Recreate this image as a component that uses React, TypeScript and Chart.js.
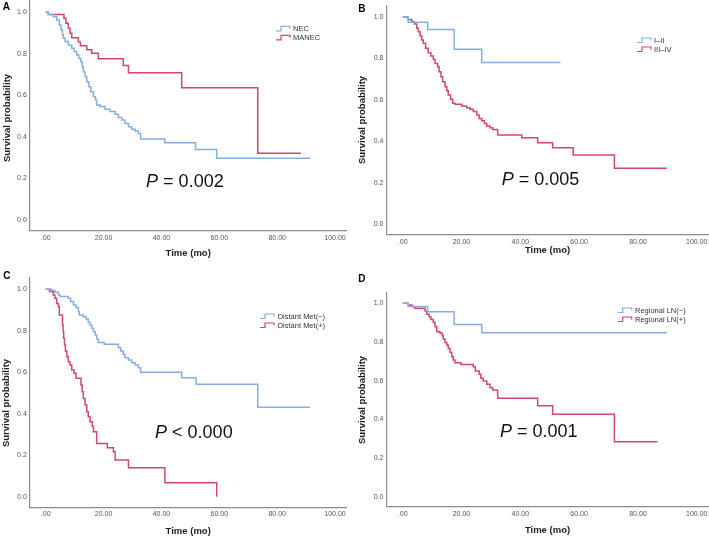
import React, { useEffect, useRef } from 'react';
import { Chart, registerables } from 'chart.js';

Chart.register(...registerables);

const BLUE = '#86AEE3';
const RED = '#D6456A';
const AXIS = '#8c8c8c';
const FONT = '"Liberation Sans", Arial, sans-serif';

const X_TICKS = [0, 20, 40, 60, 80, 100];
const X_TICK_LABELS = ['.00', '20.00', '40.00', '60.00', '80.00', '100.00'];
const Y_TICKS = [0, 0.2, 0.4, 0.6, 0.8, 1.0];
const Y_TICK_LABELS = ['0.0', '0.2', '0.4', '0.6', '0.8', '1.0'];
const X_TITLE = 'Time (mo)';
const Y_TITLE = 'Survival probability';

// Panel A
const A_NEC_T = [0, 0.9, 2.6, 3.8, 4.7, 5.3, 5.8, 6.1, 6.7, 7.8, 9.0, 9.8, 10.7, 11.4, 12.1, 12.6, 13.0, 13.6, 14.2, 14.9, 15.6, 16.5, 17.2, 17.6, 18.8, 20.5, 22.2, 24.0, 25.1, 26.3, 27.4, 28.6, 29.7, 30.9, 32.0, 32.8, 41.2, 51.8, 59.1, 91.4];
const A_NEC_S = [1, 0.99, 0.979, 0.963, 0.939, 0.915, 0.891, 0.875, 0.859, 0.843, 0.827, 0.811, 0.795, 0.778, 0.762, 0.738, 0.714, 0.690, 0.666, 0.642, 0.618, 0.594, 0.578, 0.554, 0.546, 0.533, 0.522, 0.509, 0.494, 0.482, 0.465, 0.449, 0.437, 0.429, 0.417, 0.39, 0.372, 0.340, 0.297, 0.297];
const A_MANEC_T = [0, 0.9, 6.3, 7.0, 7.8, 8.4, 9.0, 11.3, 12.0, 14.2, 15.9, 18.2, 26.8, 28.6, 47.0, 73.3, 88.2];
const A_MANEC_S = [1, 0.99, 0.971, 0.947, 0.923, 0.899, 0.878, 0.857, 0.839, 0.820, 0.803, 0.777, 0.744, 0.709, 0.637, 0.321, 0.321];

// Panel B
const B_I_T = [0, 1.9, 8.5, 17.5, 26.9, 53.7];
const B_I_S = [1, 0.973, 0.939, 0.843, 0.780, 0.780];
const B_III_T = [0, 1.4, 1.9, 3.1, 4.0, 4.8, 5.3, 5.9, 6.5, 7.0, 7.8, 8.7, 9.6, 10.4, 11.0, 11.9, 12.4, 13.0, 13.6, 14.4, 15.0, 15.5, 16.3, 17.0, 17.8, 20.1, 21.8, 22.9, 24.0, 25.2, 26.0, 26.9, 27.8, 28.6, 29.7, 30.6, 32.3, 40.5, 45.9, 51.0, 58.0, 72.0, 89.8];
const B_III_S = [1, 0.997, 0.987, 0.976, 0.965, 0.944, 0.928, 0.907, 0.888, 0.872, 0.848, 0.827, 0.811, 0.795, 0.775, 0.759, 0.735, 0.711, 0.687, 0.663, 0.644, 0.623, 0.602, 0.583, 0.578, 0.570, 0.562, 0.554, 0.543, 0.527, 0.510, 0.499, 0.486, 0.474, 0.465, 0.457, 0.430, 0.417, 0.393, 0.369, 0.334, 0.270, 0.270];

// Panel C
const C_NEG_T = [0, 2.1, 3.2, 4.4, 5.0, 7.8, 8.6, 9.6, 10.5, 11.3, 11.6, 13.0, 13.9, 14.7, 15.3, 15.9, 16.5, 17.1, 17.6, 18.2, 20.2, 25.1, 25.9, 26.8, 27.4, 28.6, 29.7, 30.9, 32.0, 32.8, 47.0, 52.0, 73.3, 91.4];
const C_NEG_S = [1, 0.994, 0.986, 0.973, 0.965, 0.957, 0.941, 0.924, 0.912, 0.892, 0.876, 0.868, 0.857, 0.841, 0.828, 0.812, 0.796, 0.780, 0.760, 0.744, 0.735, 0.719, 0.703, 0.686, 0.670, 0.659, 0.646, 0.635, 0.622, 0.600, 0.574, 0.542, 0.431, 0.431];
const C_POS_T = [0, 1.3, 2.6, 3.2, 3.8, 4.4, 4.7, 5.8, 6.0, 6.2, 6.5, 6.8, 7.3, 7.8, 8.4, 9.0, 9.8, 10.5, 12.2, 12.6, 13.0, 13.6, 14.2, 14.7, 15.3, 16.1, 16.5, 17.6, 21.3, 23.4, 24.0, 28.6, 41.2, 59.1];
const C_POS_S = [1, 0.989, 0.973, 0.957, 0.932, 0.916, 0.876, 0.828, 0.796, 0.764, 0.732, 0.703, 0.675, 0.651, 0.635, 0.611, 0.595, 0.571, 0.539, 0.506, 0.474, 0.442, 0.410, 0.386, 0.362, 0.338, 0.313, 0.257, 0.236, 0.217, 0.177, 0.140, 0.068, 0.0];

// Panel D
const D_NEG_T = [0, 1.9, 8.5, 17.5, 26.9, 89.8];
const D_NEG_S = [1, 0.983, 0.957, 0.891, 0.848, 0.848];
const D_POS_T = [0, 1.9, 3.1, 4.0, 7.6, 8.2, 9.0, 9.6, 10.4, 11.0, 11.6, 12.7, 13.5, 13.8, 14.4, 15.0, 15.5, 16.1, 16.7, 17.2, 17.8, 19.8, 24.0, 24.7, 26.0, 26.6, 27.4, 28.6, 29.7, 30.6, 32.3, 45.9, 51.0, 72.0, 86.6];
const D_POS_S = [1, 0.991, 0.983, 0.974, 0.960, 0.943, 0.931, 0.917, 0.902, 0.879, 0.853, 0.845, 0.833, 0.816, 0.798, 0.784, 0.767, 0.747, 0.724, 0.707, 0.693, 0.684, 0.672, 0.650, 0.633, 0.612, 0.598, 0.581, 0.564, 0.552, 0.509, 0.471, 0.426, 0.284, 0.284];

const P_TEXTS = [' = 0.002', ' = 0.005', ' < 0.000', ' = 0.001'];

type Series = { label: string; t: number[]; s: number[]; color: string };
type PanelDef = {
  letter: string;
  letterPos: [number, number];
  rect: [number, number, number, number];
  area: [number, number, number, number];
  xTitleY: number;
  yTitlePos: [number, number];
  series: Series[];
  legend: { iconX: number; textX: number; rows: number[] };
  pText: string;
  pPos: [number, number];
};

const PANELS: PanelDef[] = [
  {
    letter: 'A', letterPos: [2.7, 10],
    rect: [0, 0, 354, 265], area: [29.8, 0.7, 346.6, 230.4],
    xTitleY: 253.3, yTitlePos: [7, 118],
    series: [
      { label: 'NEC', t: A_NEC_T, s: A_NEC_S, color: BLUE },
      { label: 'MANEC', t: A_MANEC_T, s: A_MANEC_S, color: RED },
    ],
    legend: { iconX: 276, textX: 293, rows: [28.3, 37.3] },
    pText: P_TEXTS[0], pPos: [34.7, 0.161],
  },
  {
    letter: 'B', letterPos: [358.3, 11.7],
    rect: [355, 0, 354, 265], area: [386.5, 5.1, 708.5, 234.7],
    xTitleY: 250, yTitlePos: [362, 120],
    series: [
      { label: 'I–II', t: B_I_T, s: B_I_S, color: BLUE },
      { label: 'III–IV', t: B_III_T, s: B_III_S, color: RED },
    ],
    legend: { iconX: 637, textX: 654, rows: [40, 49] },
    pText: P_TEXTS[1], pPos: [33.7, 0.19],
  },
  {
    letter: 'C', letterPos: [3.3, 279],
    rect: [0, 265, 354, 275], area: [29.8, 277.7, 346.6, 507.1],
    xTitleY: 531, yTitlePos: [6.7, 403],
    series: [
      { label: 'Distant Met(−)', t: C_NEG_T, s: C_NEG_S, color: BLUE },
      { label: 'Distant Met(+)', t: C_POS_T, s: C_POS_S, color: RED },
    ],
    legend: { iconX: 260, textX: 277.7, rows: [316, 325] },
    pText: P_TEXTS[2], pPos: [37.8, 0.284],
  },
  {
    letter: 'D', letterPos: [358.3, 281.7],
    rect: [355, 265, 354, 275], area: [386.5, 292.5, 708.5, 506.4],
    xTitleY: 530, yTitlePos: [362.3, 400],
    series: [
      { label: 'Regional LN(−)', t: D_NEG_T, s: D_NEG_S, color: BLUE },
      { label: 'Regional LN(+)', t: D_POS_T, s: D_POS_S, color: RED },
    ],
    legend: { iconX: 617.7, textX: 635, rows: [310, 319] },
    pText: P_TEXTS[3], pPos: [33.1, 0.31],
  },
];

const TITLE_SIZE = 9.5;
const TITLE_LH = TITLE_SIZE * 1.2;

function Panel({ def }: { def: PanelDef }) {
  const ref = useRef<HTMLCanvasElement | null>(null);
  useEffect(() => {
    const canvas = ref.current;
    if (!canvas) return;
    const [pl, pt, w, h] = def.rect;
    const [al, at, ar, ab] = def.area;
    const padTop = at - pt;
    const padRight = pl + w - ar;
    const yWidth = al - pl;
    const xBoxBottom = def.xTitleY + TITLE_LH / 2;
    const xHeight = xBoxBottom - ab;
    const padBottom = pt + h - xBoxBottom;

    const decor = {
      id: 'kmDecor',
      afterDatasetsDraw(chart: any) {
        const ctx = chart.ctx;
        ctx.save();
        // y-axis title
        ctx.save();
        ctx.translate(def.yTitlePos[0] - pl, def.yTitlePos[1] - pt);
        ctx.rotate(-Math.PI / 2);
        ctx.font = `bold ${TITLE_SIZE}px ${FONT}`;
        ctx.fillStyle = '#222';
        ctx.textAlign = 'center';
        ctx.textBaseline = 'middle';
        ctx.fillText(Y_TITLE, 0, 0);
        ctx.restore();
        // legend
        ctx.font = `7.5px ${FONT}`;
        ctx.textBaseline = 'middle';
        ctx.textAlign = 'left';
        def.series.forEach((s, i) => {
          const y = def.legend.rows[i] - pt;
          const x = def.legend.iconX - pl;
          ctx.strokeStyle = s.color;
          ctx.lineWidth = 1.2;
          ctx.beginPath();
          ctx.moveTo(x, y + 2.5);
          ctx.lineTo(x + 5, y + 2.5);
          ctx.lineTo(x + 5, y - 2);
          ctx.lineTo(x + 14, y - 2);
          ctx.lineTo(x + 14, y + 0.5);
          ctx.stroke();
          ctx.fillStyle = '#333';
          ctx.fillText(s.label, def.legend.textX - pl, y + 0.5);
        });
        // P value
        const px = chart.scales.x.getPixelForValue(def.pPos[0]);
        const py = chart.scales.y.getPixelForValue(def.pPos[1]);
        ctx.fillStyle = '#111';
        ctx.textBaseline = 'alphabetic';
        ctx.font = `italic 18px ${FONT}`;
        ctx.fillText('P', px, py);
        const pw = ctx.measureText('P').width;
        ctx.font = `18px ${FONT}`;
        ctx.fillText(def.pText, px + pw, py);
        // panel letter
        ctx.font = `bold 10px ${FONT}`;
        ctx.fillStyle = '#000';
        ctx.fillText(def.letter, def.letterPos[0] - pl, def.letterPos[1] - pt);
        ctx.restore();
      },
    };

    const chart = new Chart(canvas, {
      type: 'line',
      data: {
        datasets: def.series.map((s) => ({
          label: s.label,
          data: s.t.map((x, i) => ({ x, y: s.s[i] })),
          borderColor: s.color,
          backgroundColor: s.color,
          borderWidth: 1.5,
          stepped: 'before' as const,
          pointRadius: 0,
          fill: false,
          tension: 0,
        })),
      },
      options: {
        animation: false,
        responsive: false,
        maintainAspectRatio: false,
        events: [],
        layout: { padding: { left: 0, top: padTop, right: padRight, bottom: padBottom } },
        plugins: { legend: { display: false }, tooltip: { enabled: false }, title: { display: false } },
        scales: {
          x: {
            type: 'linear',
            min: -5.5,
            max: 104,
            afterBuildTicks: (s: any) => { s.ticks = X_TICKS.map((v) => ({ value: v })); },
            afterFit: (s: any) => { s.height = xHeight; s.paddingLeft = 0; s.paddingRight = 0; },
            grid: { display: false, drawTicks: false },
            border: { display: true, color: AXIS, width: 1.2 },
            ticks: {
              padding: 3,
              autoSkip: false,
              maxRotation: 0,
              color: '#555',
              font: { family: FONT, size: 7 },
              callback: (_v: any, i: number) => X_TICK_LABELS[i],
            },
            title: {
              display: true, text: X_TITLE, color: '#222',
              font: { family: FONT, size: TITLE_SIZE, weight: 'bold' },
              padding: { top: 0, bottom: 0 },
            },
          },
          y: {
            type: 'linear',
            min: -0.05,
            max: 1.056,
            afterBuildTicks: (s: any) => { s.ticks = Y_TICKS.map((v) => ({ value: v })); },
            afterFit: (s: any) => { s.width = yWidth; s.paddingTop = 0; s.paddingBottom = 0; },
            grid: { display: false, drawTicks: false },
            border: { display: true, color: AXIS, width: 1.2 },
            ticks: {
              padding: 3,
              autoSkip: false,
              color: '#555',
              font: { family: FONT, size: 7 },
              callback: (_v: any, i: number) => Y_TICK_LABELS[i],
            },
            title: { display: false },
          },
        },
      },
      plugins: [decor],
    } as any);
    return () => chart.destroy();
  }, [def]);

  const [pl, pt, w, h] = def.rect;
  return (
    <canvas
      ref={ref}
      width={w}
      height={h}
      style={{ position: 'absolute', left: pl, top: pt, width: w, height: h }}
    />
  );
}

export default function App() {
  return (
    <div style={{ position: 'fixed', left: 0, top: 0, width: 709, height: 536, overflow: 'hidden', background: '#fff' }}>
      {PANELS.map((p) => (
        <Panel key={p.letter} def={p} />
      ))}
    </div>
  );
}
